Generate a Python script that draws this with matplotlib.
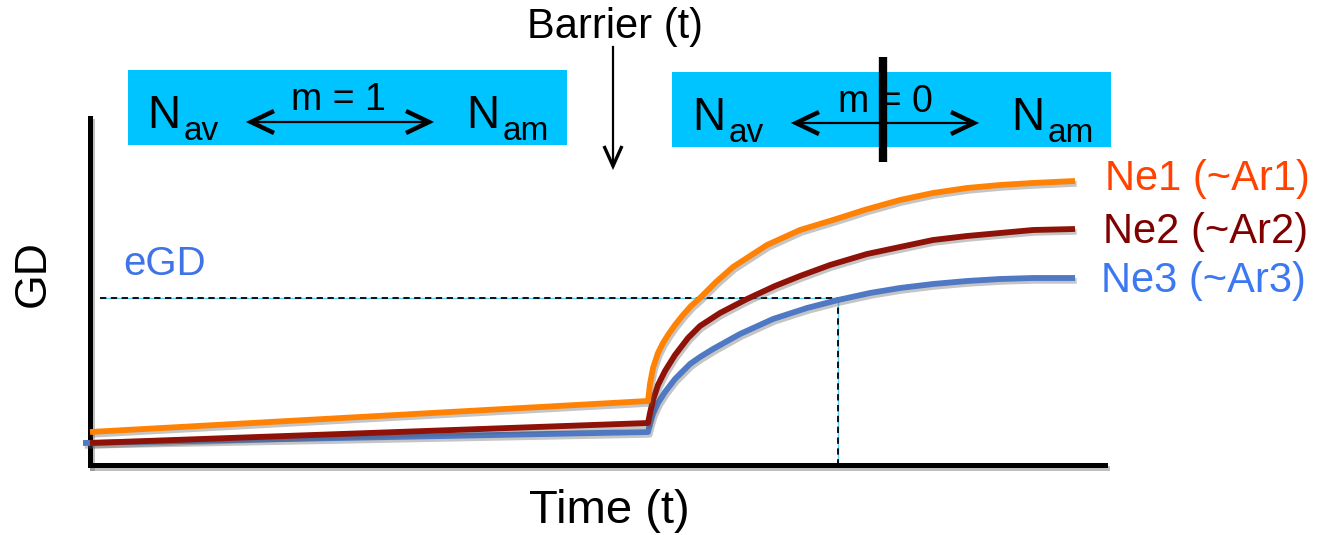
import matplotlib
matplotlib.use("Agg")
import matplotlib.pyplot as plt
import matplotlib.patheffects as pe
from matplotlib.patches import Rectangle
from matplotlib.lines import Line2D

plt.rcParams['font.family'] = ['Liberation Sans', 'DejaVu Sans']

# ---- data (time and genetic diversity, arbitrary units) ----
time_ne1 = [0, 55.8, 56.0, 56.3, 56.8, 57.3, 57.8, 58.5, 59.3, 60.1, 61.0, 62.6, 64.3, 66.0,
            67.7, 71.0, 74.3, 77.6, 81.0, 84.3, 87.7, 91.0, 94.3, 98.5]
gd_ne1 = [3.3, 6.4, 8.1, 9.7, 11.2, 12.2, 13.0, 14.0, 15.0, 15.9, 16.7, 18.3, 19.8, 20.9,
          22.0, 23.5, 24.5, 25.55, 26.5, 27.2, 27.7, 28.0, 28.2, 28.4]

time_ne2 = [0, 55.8, 56.0, 56.3, 56.8, 57.5, 58.5, 59.8, 61.0, 63.0, 65.7, 68.5, 71.0, 74.0,
            77.7, 81.0, 84.3, 87.7, 91.0, 94.3, 98.5]
gd_ne2 = [2.2, 4.2, 5.2, 6.5, 8.0, 9.4, 11.0, 12.7, 13.9, 15.2, 16.6, 17.9, 18.9, 20.0,
          21.1, 21.8, 22.5, 22.9, 23.2, 23.5, 23.6]

time_ne3 = [-0.7, 55.8, 56.0, 56.3, 56.8, 57.5, 58.5, 60.0, 61.0, 62.3, 65.0, 68.3, 71.7, 74.8,
            78.0, 81.0, 84.3, 87.7, 91.0, 94.3, 98.5]
gd_ne3 = [2.2, 3.3, 4.1, 5.1, 6.2, 7.3, 8.6, 10.1, 10.8, 11.6, 13.1, 14.6, 15.7, 16.5,
          17.2, 17.7, 18.1, 18.4, 18.6, 18.7, 18.7]

series_labels = ["Ne1 (~Ar1)", "Ne2 (~Ar2)", "Ne3 (~Ar3)"]
egd_level = 16.7
egd_time = 74.8
egd_start = 1.0

W, H = 1317, 535
fig = plt.figure(figsize=(W / 100, H / 100), dpi=100)

# main plotting axes
ax = fig.add_axes([90 / W, (H - 465) / H, 1015 / W, 347 / H])
ax.set_xlim(0, 101.5)
ax.set_ylim(0, 34.7)
ax.set_xticks([])
ax.set_yticks([])
ax.patch.set_alpha(0)
for s in ("top", "right"):
    ax.spines[s].set_visible(False)
for s in ("left", "bottom"):
    ax.spines[s].set_linewidth(3.6)
    ax.spines[s].set_capstyle("projecting")
    ax.spines[s].set_path_effects([
        pe.SimpleLineShadow(offset=(1.5, -2), shadow_color="0.45", alpha=0.45),
        pe.Normal()])

shadow = [pe.SimpleLineShadow(offset=(1.2, -2.0), shadow_color="0.35", alpha=0.35), pe.Normal()]

# eGD reference lines
ax.plot([egd_start, egd_time], [egd_level, egd_level], color="#5bd0f0", lw=1.0, zorder=2)
ax.plot([egd_time, egd_time], [egd_level, 0], color="#5bd0f0", lw=1.0, zorder=2)
ax.plot([egd_start, egd_time, egd_time], [egd_level, egd_level, 0], color="black",
        lw=1.3, ls=(0, (3.5, 2.5)), zorder=3)

line_kw = dict(lw=4.2, solid_capstyle="butt", solid_joinstyle="round",
               path_effects=shadow, clip_on=False)
ax.plot(time_ne3, gd_ne3, color="#4f79c4", zorder=4, **line_kw)
ax.plot(time_ne2, gd_ne2, color="#8e1208", zorder=5, **line_kw)
ax.plot(time_ne1, gd_ne1, color="#ff8205", zorder=6, **line_kw)

# overlay axes in pixel units for the annotations
ov = fig.add_axes([0, 0, 1, 1])
ov.set_xlim(0, W)
ov.set_ylim(H, 0)
ov.axis("off")
ov.patch.set_alpha(0)

cyan = "#00c4ff"
ov.add_patch(Rectangle((128, 70), 439, 75, facecolor=cyan, edgecolor="none"))
ov.add_patch(Rectangle((672, 72), 439, 75, facecolor=cyan, edgecolor="none"))


def n_sub(x, base, sub, sub_dx):
    ov.text(x, base, "N", fontsize=33, ha="left", va="baseline", color="black")
    ov.text(x + sub_dx, base + 12, sub, fontsize=24, ha="left", va="baseline", color="black")


def double_arrow(x0, x1, y):
    ov.add_line(Line2D([x0, x1], [y, y], color="black", lw=1.6))
    ov.add_line(Line2D([x0 + 23, x0, x0 + 23], [y - 11, y, y + 11], color="black", lw=3.2,
                       solid_joinstyle="miter", solid_capstyle="butt"))
    ov.add_line(Line2D([x1 - 23, x1, x1 - 23], [y - 11, y, y + 11], color="black", lw=3.2,
                       solid_joinstyle="miter", solid_capstyle="butt"))


n_sub(147, 128, "av", 37)
n_sub(466, 128, "am", 37)
double_arrow(251, 429, 122)
ov.text(338, 110, "m = 1", fontsize=27, ha="center", va="baseline")

n_sub(692, 130, "av", 37)
n_sub(1011, 130, "am", 37)
double_arrow(796, 974, 123)
ov.text(885, 112, "m = 0", fontsize=27, ha="center", va="baseline")
ov.add_line(Line2D([883, 883], [57, 162], color="black", lw=6, solid_capstyle="butt"))

# barrier arrow
ov.text(615, 38, "Barrier (t)", fontsize=30, ha="center", va="baseline")
ov.add_line(Line2D([613, 613], [47, 166], color="black", lw=1.6))
ov.add_line(Line2D([604, 613, 622], [146, 166, 146], color="black", lw=2.4,
                   solid_joinstyle="miter", solid_capstyle="butt"))

# axis titles
ov.text(609, 523, "Time (t)", fontsize=34, ha="center", va="baseline")
ov.text(33, 274, "GD", fontsize=32, ha="center", va="center", rotation=90)
ov.text(123, 275, "eGD", fontsize=29, ha="left", va="baseline", color="#3f74e6")

# series labels
label_colors = ["#ff4200", "#7f0000", "#3b78f2"]
label_pos = [(1105, 190), (1103, 243), (1101, 292)]
for txt, col, (lx, ly) in zip(series_labels, label_colors, label_pos):
    ov.text(lx, ly, txt, fontsize=30, ha="left", va="baseline", color=col)

fig.savefig("out.png", dpi=100)
